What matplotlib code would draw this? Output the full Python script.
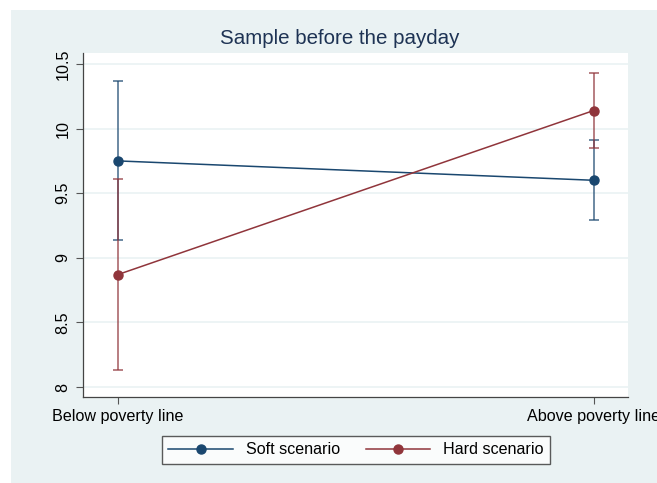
import numpy as np
import matplotlib
matplotlib.use('Agg')
import matplotlib.pyplot as plt
from matplotlib.patches import Rectangle

plt.rcParams['font.family'] = ['Liberation Sans', 'DejaVu Sans']

groups = ['Below poverty line', 'Above poverty line']
soft_mean = [9.75, 9.60]
soft_lo = [9.14, 9.29]
soft_hi = [10.37, 9.91]
hard_mean = [8.87, 10.14]
hard_lo = [8.13, 9.85]
hard_hi = [9.61, 10.43]
yticks = [8, 8.5, 9, 9.5, 10, 10.5]

navy = '#1a476f'
maroon = '#90353b'
bg = '#eaf2f3'

fig = plt.figure(figsize=(6.57, 4.83), dpi=100)
fig.patch.set_facecolor('white')
fig.patches.append(Rectangle((11 / 657, 0), 1, 473 / 483, transform=fig.transFigure,
                             facecolor=bg, edgecolor='none', zorder=-10))

ax = fig.add_axes([83 / 657, 86 / 483, 545 / 657, 344 / 483])
x = np.arange(len(groups))

for mean, lo, hi, col, lab in [(soft_mean, soft_lo, soft_hi, navy, 'Soft scenario'),
                               (hard_mean, hard_lo, hard_hi, maroon, 'Hard scenario')]:
    mean = np.array(mean)
    err = [mean - np.array(lo), np.array(hi) - mean]
    ax.errorbar(x, mean, yerr=err, fmt='none', ecolor=col, alpha=0.75,
                elinewidth=1.2, capsize=3.5, capthick=1.2)
    ax.plot(x, mean, '-o', color=col, lw=1.1, ms=6.5, label=lab)

ax.set_xlim(-0.073, 1.072)
ax.set_ylim(7.923, 10.585)
ax.set_yticks(yticks)
ax.set_yticklabels(['8', '8.5', '9', '9.5', '10', '10.5'], rotation=90, va='center')
ax.set_xticks(x)
ax.set_xticklabels(groups)
ax.tick_params(labelsize=11.6, length=5, width=0.8, color='#555555', pad=4)
ax.grid(axis='y', color=bg, lw=1.2)
ax.set_axisbelow(True)
for s in ['top', 'right']:
    ax.spines[s].set_visible(False)
for s in ['left', 'bottom']:
    ax.spines[s].set_color('#444444')
    ax.spines[s].set_linewidth(0.9)

fig.text(340 / 657, 1 - 39 / 483, 'Sample before the payday', ha='center', va='center',
         fontsize=14.8, color='#1e3354')

leg = ax.legend(loc='center', bbox_to_anchor=(356 / 657, 33 / 483),
                bbox_transform=fig.transFigure, ncol=2, fontsize=11.6, frameon=True,
                fancybox=False, handlelength=4.0, columnspacing=1.6, borderpad=0.4)
leg.get_frame().set_edgecolor('#333333')
leg.get_frame().set_linewidth(1.0)

fig.savefig('out.png', dpi=100)
